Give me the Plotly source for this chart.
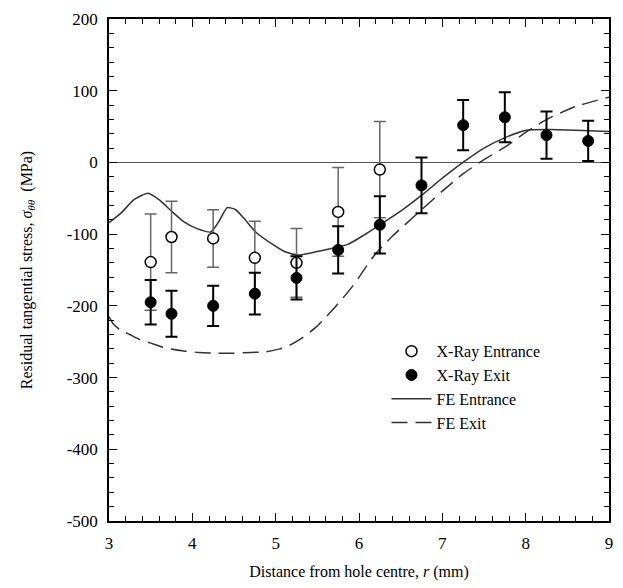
import plotly.graph_objects as go

# FE model curves
fe_ent_x = [3.0, 3.15, 3.3, 3.47, 3.6, 3.76, 3.9, 4.05, 4.22, 4.32, 4.42, 4.52, 4.62, 4.76,
            4.96, 5.12, 5.27, 5.47, 5.67, 5.87, 6.05, 6.25, 6.5, 6.76, 7.0, 7.26, 7.5, 7.76,
            8.01, 8.27, 8.6, 9.0]
fe_ent_y = [-84, -70, -52, -43, -52, -69, -83, -92, -97, -82, -63, -66, -78, -97,
            -114, -125, -129, -125, -120, -114, -102, -87, -68, -45, -22, 1, 20, 35,
            45, 46, 45, 43]

fe_exit_x = [3.0, 3.05, 3.13, 3.25, 3.37, 3.5, 3.69, 3.9, 4.08, 4.3, 4.48, 4.7, 4.88, 5.05,
             5.15, 5.3, 5.47, 5.6, 5.75, 5.9, 6.0, 6.18, 6.4, 6.76, 7.0, 7.26, 7.5, 7.76,
             8.0, 8.27, 8.6, 9.0]
fe_exit_y = [-215, -225, -233, -240, -247, -252, -259, -263, -265, -266, -266, -265, -264, -260,
             -256, -246, -231, -216, -197, -176, -160, -130, -103, -65, -40, -15, 4, 22,
             42, 61, 78, 91]

# X-ray measurements
xr_ent_x = [3.5, 3.75, 4.25, 4.75, 5.25, 5.75, 6.25]
xr_ent_y = [-139, -104, -106, -133, -140, -69, -10]
xr_ent_err = [67, 50, 40, 51, 48, 62, 67]

xr_exit_x = [3.5, 3.75, 4.25, 4.75, 5.25, 5.75, 6.25, 6.75, 7.25, 7.75, 8.25, 8.75]
xr_exit_y = [-195, -211, -200, -183, -161, -122, -87, -32, 52, 63, 38, 30]
xr_exit_err = [31, 32, 28, 29, 30, 33, 40, 39, 35, 35, 33, 28]

# tick labels (hyphen minus as in the reference)
x_tickvals = [3, 4, 5, 6, 7, 8, 9]
x_ticktext = ["3", "4", "5", "6", "7", "8", "9"]
y_tickvals = [200, 100, 0, -100, -200, -300, -400, -500]
y_ticktext = ["200", "100", "0", "-100", "-200", "-300", "-400", "-500"]

FONT = "Liberation Serif"

fig = go.Figure()

fig.add_trace(go.Scatter(
    x=fe_ent_x, y=fe_ent_y, mode="lines", name="FE Entrance",
    line=dict(color="#333333", width=1.5, shape="spline", smoothing=0.6),
    legendrank=3))
fig.add_trace(go.Scatter(
    x=fe_exit_x, y=fe_exit_y, mode="lines", name="FE Exit",
    line=dict(color="#333333", width=1.5, dash="16px,8px", shape="spline", smoothing=0.6),
    legendrank=4))
fig.add_trace(go.Scatter(
    x=xr_ent_x, y=xr_ent_y, mode="markers", name="X-Ray Entrance",
    marker=dict(symbol="circle", size=11, color="white", line=dict(color="black", width=1.5)),
    error_y=dict(type="data", array=xr_ent_err, visible=True, color="#666666",
                 thickness=1.5, width=6),
    legendrank=1))
fig.add_trace(go.Scatter(
    x=xr_exit_x, y=xr_exit_y, mode="markers", name="X-Ray Exit",
    marker=dict(symbol="circle", size=11, color="black", line=dict(color="black", width=1)),
    error_y=dict(type="data", array=xr_exit_err, visible=True, color="black",
                 thickness=2, width=6),
    legendrank=2))

axis_common = dict(
    showline=True, linecolor="black", linewidth=1.5, mirror="allticks",
    ticks="inside", ticklen=8, tickwidth=1.2, tickcolor="black",
    showgrid=False, tickmode="array",
    tickfont=dict(family=FONT, size=17, color="black"),
)

fig.update_xaxes(
    range=[3, 9], tickvals=x_tickvals, ticktext=x_ticktext,
    minor=dict(tickmode="linear", tick0=3, dtick=0.2, ticks="inside", ticklen=5,
               tickcolor="black", tickwidth=1),
    title=dict(text="Distance from hole centre, <i>r</i> (mm)",
               font=dict(family=FONT, size=16, color="black"), standoff=14),
    zeroline=False, ticklabelstandoff=6,
    **axis_common)
fig.update_yaxes(
    range=[-500, 200], tickvals=y_tickvals, ticktext=y_ticktext,
    minor=dict(tickmode="linear", tick0=0, dtick=20, ticks="inside", ticklen=5,
               tickcolor="black", tickwidth=1),
    title=dict(text="Residual tangential stress, <i>σ<sub>θθ</sub></i>  (MPa)",
               font=dict(family=FONT, size=16, color="black"), standoff=30),
    zeroline=True, zerolinecolor="#555555", zerolinewidth=1.2,
    ticklabelstandoff=6,
    **axis_common)

fig.update_layout(
    width=623, height=588,
    margin=dict(l=109, r=10, t=14, b=67),
    paper_bgcolor="white", plot_bgcolor="white",
    font=dict(family=FONT, color="black"),
    legend=dict(x=0.555, y=0.372, xanchor="left", yanchor="top",
                bgcolor="rgba(0,0,0,0)", borderwidth=0,
                font=dict(family=FONT, size=16, color="black"),
                itemwidth=40, tracegroupgap=2),
    showlegend=True,
)

fig.write_html("out.html")
